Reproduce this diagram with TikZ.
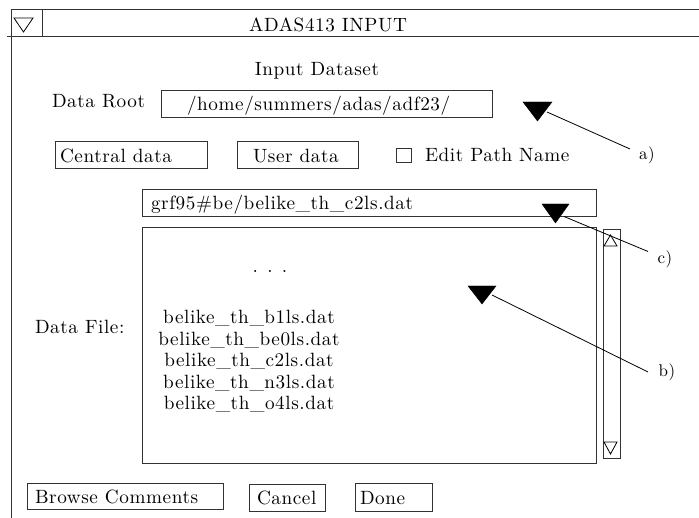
\documentclass[tikz,border=0pt]{standalone}
\usepackage{fontspec}
\setmainfont{lmroman10-regular.otf}[LetterSpace=3]
\begin{document}
\begin{tikzpicture}[x=1pt,y=-1pt,
  every node/.style={font=\fontsize{19.2}{23}\selectfont, inner sep=0pt, outer sep=0pt},
  frame/.style={line width=1pt, draw=black!80},
  box/.style={draw=black!80, line width=1pt, rectangle, inner sep=0pt},
  lbl/.style={font=\fontsize{17}{20}\selectfont},
  pointer/.style={fill=black, draw=black, line join=miter},
  leader/.style={draw=black, line width=0.8pt}]
\useasboundingbox (0,0) rectangle (699,518);
% window frame
\draw[frame] (11,518) -- (11,10) -- (699,10);
\draw[frame] (7,37) -- (699,37);
\draw[frame] (42,10) -- (42,37);
\draw[line width=0.8pt] (14,18) -- (33,18) -- (23.5,32) -- cycle;
\node[anchor=base] (title) at (328,32) {ADAS413 INPUT};
\node[anchor=base] (inds) at (317,76) {Input Dataset};
% data root
\node[anchor=base west] (drlab) at (52,108) {Data Root};
\node[box, minimum width=331pt, minimum height=27pt] (drbox) at (326.5,104.5) {};
\node[anchor=base west] (drtext) at (187,111) {/home/summers/adas/adf23/};
% buttons row
\node[box, minimum width=152pt, minimum height=27pt] (central) at (131,155.5) {};
\node[anchor=base west] at (60,163) {Central data};
\node[box, minimum width=121pt, minimum height=27pt] (user) at (297.5,155.5) {};
\node[anchor=base west] at (253,163) {User data};
\node[box, minimum width=15pt, minimum height=14pt] (chk) at (403.5,156) {};
\node[anchor=base west] (edit) at (425,162) {Edit Path Name};
% file selection
\node[box, minimum width=454pt, minimum height=27pt] (grf) at (369,203.5) {};
\node[anchor=base west] at (151,210) {grf95\#be/belike\_th\_c2ls.dat};
\node[box, minimum width=454pt, minimum height=236pt] (list) at (369,346) {};
\node[box, minimum width=17pt, minimum height=229pt] (scroll) at (611.5,344.5) {};
\draw[line width=0.8pt] (604,246) -- (617,246) -- (610.5,235) -- cycle;
\draw[line width=0.8pt] (604,442) -- (617,442) -- (610.5,454) -- cycle;
\node[anchor=base west] (dflab) at (35,334) {Data File:};
\node[anchor=base] at (270,273) {. . .};
\node[anchor=base] at (249,324) {belike\_th\_b1ls.dat};
\node[anchor=base] at (249,345.5) {belike\_th\_be0ls.dat};
\node[anchor=base] at (249,367) {belike\_th\_c2ls.dat};
\node[anchor=base] at (249,388.5) {belike\_th\_n3ls.dat};
\node[anchor=base] at (249,410) {belike\_th\_o4ls.dat};
% bottom buttons
\node[box, minimum width=196pt, minimum height=26pt] (browse) at (125,496) {};
\node[anchor=base west] at (35,503) {Browse Comments};
\node[box, minimum width=76pt, minimum height=27pt] (cancel) at (287,497.5) {};
\node[anchor=base west] at (257,504) {Cancel};
\node[box, minimum width=77pt, minimum height=28pt] (done) at (393.5,497) {};
\node[anchor=base west] at (360,504) {Done};
% pointers
\draw[pointer] (523,102) -- (552,102) -- (537.5,121) -- cycle;
\coordinate (pa) at (547,112);
\draw[pointer] (542,204) -- (569,204) -- (555.5,223) -- cycle;
\coordinate (pc) at (564,216.5);
\draw[pointer] (468,286) -- (496,286) -- (482,304) -- cycle;
\coordinate (pb) at (492,295);
\node[lbl] (la) at (647,155) {a)};
\node[lbl] (lc) at (665,259) {c)};
\node[lbl] (lb) at (667,372) {b)};
\coordinate (ea) at (630,149);
\coordinate (ec) at (648,251.5);
\coordinate (eb) at (648,372);
\draw[leader] (pa) -- (ea);
\draw[leader] (pc) -- (ec);
\draw[leader] (pb) -- (eb);
\end{tikzpicture}
\end{document}
